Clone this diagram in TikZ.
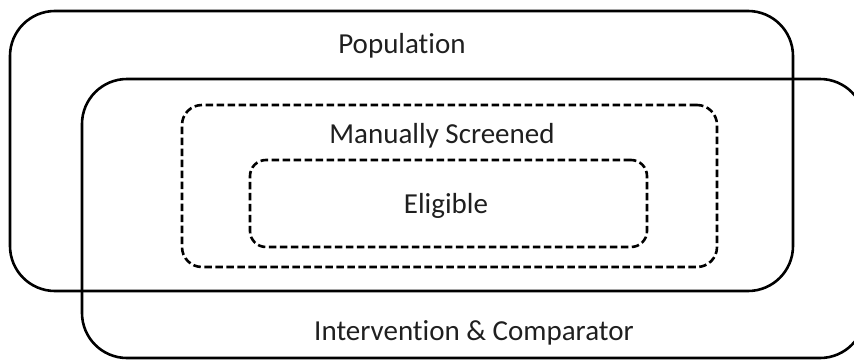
\documentclass[tikz,border=0pt]{standalone}
\usepackage{fontspec}
\setmainfont{Carlito}[Ligatures={NoCommon,NoContextual}]
\begin{document}
\begin{tikzpicture}[x=1pt,y=-1pt,
  solidbox/.style={draw=black, line width=2.6pt, rounded corners=45pt, inner sep=0pt},
  dashbox/.style={draw=black, line width=2.6pt, dash pattern=on 7.5pt off 3.5pt, inner sep=0pt},
  lbl/.style={anchor=base, inner sep=0pt, text=black!88, font=\fontsize{29}{34}\selectfont}]
\useasboundingbox (0,0) rectangle (854,359);
\clip (0,0) rectangle (854,359);
\node[solidbox, minimum width=783pt, minimum height=280pt] (pop) at (401.5,151) {};
\node[solidbox, minimum width=783pt, minimum height=279pt] (ic) at (473.5,218.5) {};
\node[dashbox, rounded corners=20pt, minimum width=535pt, minimum height=162pt] (ms) at (449.5,186) {};
\node[dashbox, rounded corners=16pt, minimum width=397pt, minimum height=87pt] (el) at (448.5,203.5) {};
\node[lbl] (tpop) at (402,53) {Population};
\node[lbl] (tms) at (442,143) {Manually Screened};
\node[lbl] (tel) at (446,213) {Eligible};
\node[lbl] (tic) at (474,340) {Intervention \& Comparator};
\end{tikzpicture}
\end{document}
